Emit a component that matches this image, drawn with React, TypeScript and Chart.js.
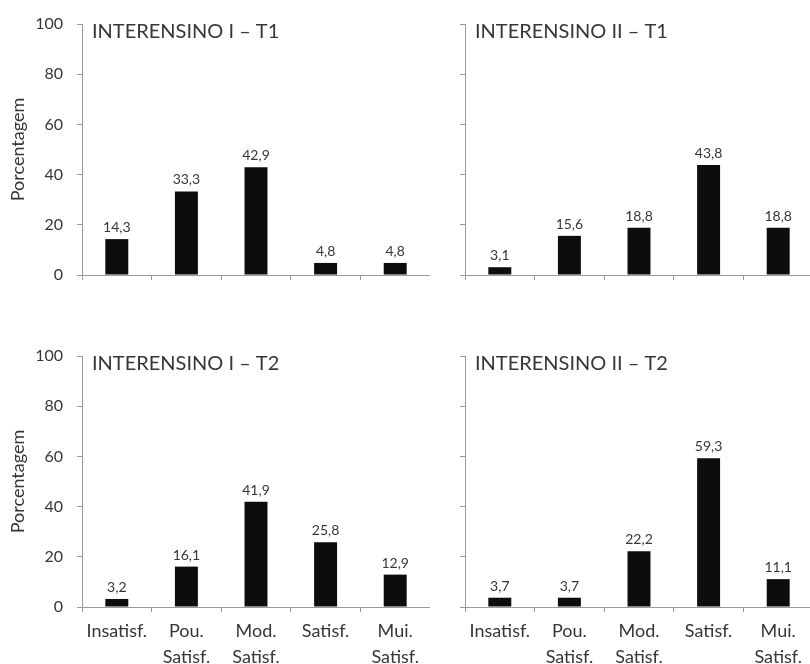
import React, { useEffect, useRef } from "react";
import { Chart, registerables } from "chart.js";

Chart.register(...registerables);

const categories: string[][] = [
  ["Insatisf."],
  ["Pou.", "Satisf."],
  ["Mod.", "Satisf."],
  ["Satisf."],
  ["Mui.", "Satisf."],
];

const titleI_T1 = "INTERENSINO I – T1";
const titleII_T1 = "INTERENSINO II – T1";
const titleI_T2 = "INTERENSINO I – T2";
const titleII_T2 = "INTERENSINO II – T2";

const valuesI_T1 = [14.3, 33.3, 42.9, 4.8, 4.8];
const valuesII_T1 = [3.1, 15.6, 18.8, 43.8, 18.8];
const valuesI_T2 = [3.2, 16.1, 41.9, 25.8, 12.9];
const valuesII_T2 = [3.7, 3.7, 22.2, 59.3, 11.1];

const yMin = 0;
const yMax = 100;
const yStep = 20;
const yTitle = "Porcentagem";

const FONT = "Lato, 'Open Sans', sans-serif";
const TEXT = "#363636";
const AXIS = "#9a9a9a";

type PanelProps = {
  title: string;
  values: number[];
  showYLabels: boolean;
  showXLabels: boolean;
  yAxisWidth: number;
  xAxisHeight: number;
  padTop: number;
  width: number;
  height: number;
};

function Panel(p: PanelProps) {
  const ref = useRef<HTMLCanvasElement | null>(null);
  useEffect(() => {
    if (!ref.current) return;
    const labelPlugin = {
      id: "decor",
      afterDatasetsDraw(chart: any) {
        const ctx = chart.ctx;
        const meta = chart.getDatasetMeta(0);
        ctx.save();
        ctx.fillStyle = TEXT;
        ctx.font = `14px ${FONT}`;
        ctx.textAlign = "center";
        ctx.textBaseline = "alphabetic";
        meta.data.forEach((bar: any, i: number) => {
          const v = p.values[i];
          ctx.fillText(v.toFixed(1).replace(".", ","), bar.x, bar.y - 7);
        });
        ctx.font = `20px ${FONT}`;
        ctx.textAlign = "left";
        ctx.fillText(p.title, chart.chartArea.left + 10, chart.chartArea.top + 14);
        ctx.restore();
      },
    };
    const chart = new Chart(ref.current, {
      type: "bar",
      data: {
        labels: categories,
        datasets: [
          {
            data: p.values,
            backgroundColor: "#0d0d0d",
            borderColor: "#000000",
            borderWidth: 0,
            barPercentage: 0.33,
            categoryPercentage: 1,
          },
        ],
      },
      options: {
        animation: false,
        responsive: false,
        maintainAspectRatio: false,
        layout: { padding: { top: p.padTop, left: 0, right: 0, bottom: 0 } },
        plugins: {
          legend: { display: false },
          tooltip: { enabled: false },
          title: { display: false },
        },
        scales: {
          x: {
            type: "category",
            offset: true,
            border: { color: AXIS, width: 1 },
            grid: {
              offset: true,
              drawOnChartArea: false,
              drawTicks: true,
              tickLength: 5,
              color: AXIS,
            },
            ticks: {
              display: p.showXLabels,
              color: TEXT,
              font: { family: FONT, size: 18, lineHeight: 1.4 },
              padding: 7,
              maxRotation: 0,
              autoSkip: false,
            },
            afterFit(scale: any) {
              scale.height = p.xAxisHeight;
            },
          },
          y: {
            min: yMin,
            max: yMax,
            border: { color: AXIS, width: 1 },
            grid: {
              drawOnChartArea: false,
              drawTicks: true,
              tickLength: 5,
              color: AXIS,
            },
            ticks: {
              display: p.showYLabels,
              stepSize: yStep,
              color: TEXT,
              font: { family: FONT, size: 16 },
              padding: 14,
            },
            title: {
              display: p.showYLabels,
              text: yTitle,
              color: TEXT,
              font: { family: FONT, size: 18, lineHeight: 1.2 },
              padding: { top: 7, bottom: 0 },
            },
            afterFit(scale: any) {
              scale.width = p.yAxisWidth;
            },
          },
        },
      },
      plugins: [labelPlugin],
    });
    return () => chart.destroy();
  }, []);
  return (
    <canvas
      ref={ref}
      width={p.width}
      height={p.height}
      style={{ display: "block", width: p.width, height: p.height }}
    />
  );
}

export default function App() {
  return (
    <div
      style={{
        position: "absolute",
        left: 0,
        top: 0,
        width: 810,
        height: 664,
        overflow: "hidden",
        background: "#ffffff",
      }}
    >
      <div style={{ position: "absolute", left: 0, top: 0 }}>
        <Panel title={titleI_T1} values={valuesI_T1} showYLabels={true} showXLabels={false}
          yAxisWidth={82} xAxisHeight={25} padTop={24} width={430} height={300} />
      </div>
      <div style={{ position: "absolute", left: 430, top: 0 }}>
        <Panel title={titleII_T1} values={valuesII_T1} showYLabels={false} showXLabels={false}
          yAxisWidth={35} xAxisHeight={25} padTop={24} width={383} height={300} />
      </div>
      <div style={{ position: "absolute", left: 0, top: 300 }}>
        <Panel title={titleI_T2} values={valuesI_T2} showYLabels={true} showXLabels={true}
          yAxisWidth={82} xAxisHeight={57} padTop={56} width={430} height={364} />
      </div>
      <div style={{ position: "absolute", left: 430, top: 300 }}>
        <Panel title={titleII_T2} values={valuesII_T2} showYLabels={false} showXLabels={true}
          yAxisWidth={35} xAxisHeight={57} padTop={56} width={383} height={364} />
      </div>
    </div>
  );
}
